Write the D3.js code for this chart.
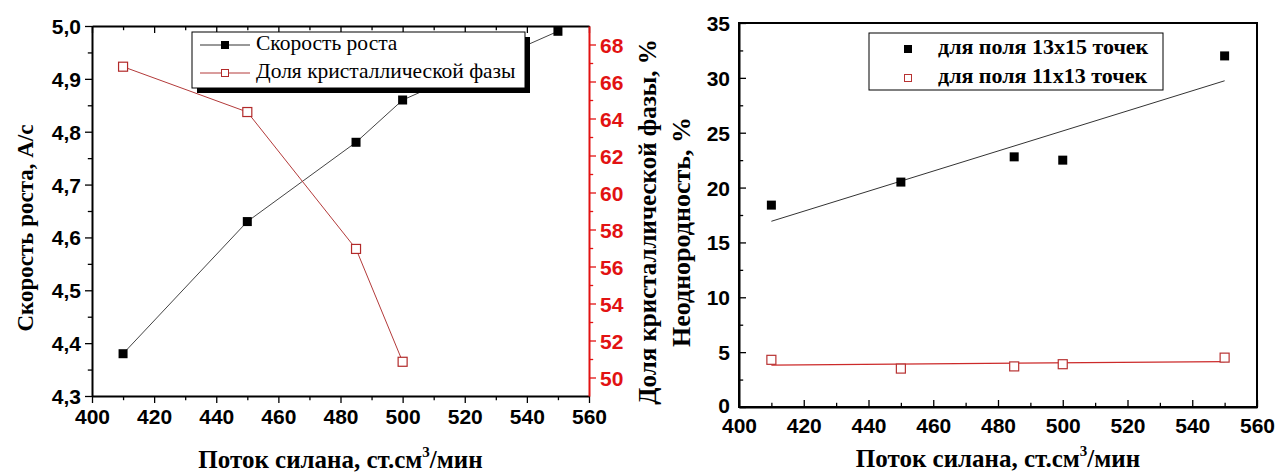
<!DOCTYPE html>
<html>
<head>
<meta charset="utf-8">
<script src="https://cdn.jsdelivr.net/npm/d3@7"></script>
<style>
    body { margin: 0; background: #fff; }
    svg { display: block; }
    .tick text { font-family: "Liberation Sans", Arial, sans-serif; font-weight: bold; font-size: 21px; }
    .title { font-family: "Liberation Serif", "Times New Roman", serif; font-weight: bold; font-size: 25px; }
</style>
</head>
<body>
<svg id="chart" width="1277" height="475"></svg>
<script>
// ---- data ----
const flow = [410, 450, 485, 500, 550];
const growthRate = [4.38, 4.63, 4.78, 4.86, 4.99];
const crystalFlow = [410, 450, 485, 500];
const crystalFraction = [66.8, 64.35, 56.95, 50.85];
const field13x15 = [18.4, 20.5, 22.8, 22.5, 32.0];
const field11x13 = [4.3, 3.5, 3.7, 3.9, 4.5];

const xTicks = [400, 420, 440, 460, 480, 500, 520, 540, 560];
const xMinor = [410, 430, 450, 470, 490, 510, 530, 550];
const rateTicks = [4.3, 4.4, 4.5, 4.6, 4.7, 4.8, 4.9, 5.0];
const rateMinor = [4.35, 4.45, 4.55, 4.65, 4.75, 4.85, 4.95];
const fracTicks = [50, 52, 54, 56, 58, 60, 62, 64, 66, 68];
const fracMinor = [51, 53, 55, 57, 59, 61, 63, 65, 67];
const nonTicks = [0, 5, 10, 15, 20, 25, 30, 35];
const nonMinor = [2.5, 7.5, 12.5, 17.5, 22.5, 27.5, 32.5];

const legendLeft = ['Скорость роста', 'Доля кристаллической фазы'];
const legendRight = ['для поля 13х15 точек', 'для поля 11х13 точек'];

const RED_AXIS = '#e21212';
const comma = d => d3.format('.1f')(d).replace('.', ',');

const svg = d3.select('#chart');

// small helper: draw axis with major + minor ticks
function axisWithMinor(g, axisFn, scale, major, minor, size, fmt, color) {
    g.call(axisFn(scale).tickValues(major).tickSize(size).tickSizeOuter(0).tickPadding(4).tickFormat(fmt));
    g.append('g').call(axisFn(scale).tickValues(minor).tickSize(size * 0.6).tickSizeOuter(0).tickFormat(''))
        .select('.domain').remove();
    g.selectAll('.domain').attr('stroke', color).attr('stroke-width', 2);
    g.selectAll('.tick line').attr('stroke', color).attr('stroke-width', 1.3);
    g.selectAll('.tick text').attr('fill', color);
}

function regression(xs, ys) {
    const mx = d3.mean(xs), my = d3.mean(ys);
    const sxy = d3.sum(xs, (x, i) => (x - mx) * (ys[i] - my));
    const sxx = d3.sum(xs, x => (x - mx) * (x - mx));
    const k = sxy / sxx;
    return x => my + k * (x - mx);
}

function xTitle(g, cx, y) {
    const t = g.append('text').attr('class', 'title').attr('x', cx).attr('y', y).attr('text-anchor', 'middle');
    t.append('tspan').text('Поток силана, ст.см');
    t.append('tspan').attr('dy', -11).style('font-size', '15px').text('3');
    t.append('tspan').attr('dy', 11).text('/мин');
}

//----------------------------------------------------------------------------
// left chart
{
    const L = 92, R = 589, T = 26, B = 396;
    const x = d3.scaleLinear().domain([400, 560]).range([L, R]);
    const y = d3.scaleLinear().domain([4.3, 5.0]).range([B, T]);
    const y2 = d3.scaleLinear().domain([49, 69]).range([B, T]);

    const g = svg.append('g');

    const bx = g.append('g').attr('transform', `translate(0,${B})`);
    axisWithMinor(bx, d3.axisBottom, x, xTicks, xMinor, 7, d => d, '#000');
    axisWithMinor(g.append('g').attr('transform', `translate(0,${T})`), d3.axisBottom, x, xTicks, xMinor, 7, '', '#000');
    const ly = g.append('g').attr('transform', `translate(${L},0)`);
    axisWithMinor(ly, d3.axisLeft, y, rateTicks, rateMinor, 7, comma, '#000');
    const ry = g.append('g').attr('transform', `translate(${R},0)`);
    axisWithMinor(ry, d3.axisRight, y2, fracTicks, fracMinor, 7, d => d, RED_AXIS);
    ly.selectAll('.tick text').attr('dy', null).attr('dominant-baseline', 'central');
    ry.selectAll('.tick text').attr('dy', null).attr('x', 11).attr('dominant-baseline', 'central');
    bx.selectAll('.tick text').attr('dy', null).attr('y', 13).attr('dominant-baseline', 'hanging');

    const line = d3.line().x(d => x(d[0])).y(d => d[1]);

    g.append('path')
        .attr('d', line(flow.map((f, i) => [f, y(growthRate[i])])))
        .attr('fill', 'none').attr('stroke', '#444').attr('stroke-width', 1);
    g.append('path')
        .attr('d', line(crystalFlow.map((f, i) => [f, y2(crystalFraction[i])])))
        .attr('fill', 'none').attr('stroke', '#b33a3a').attr('stroke-width', 1);

    g.selectAll('.crys').data(crystalFlow).join('rect')
        .attr('x', d => x(d) - 4.5).attr('y', (d, i) => y2(crystalFraction[i]) - 4.5)
        .attr('width', 9).attr('height', 9).attr('fill', '#fff').attr('stroke', '#b22a2a').attr('stroke-width', 1.2);

    // legend
    const lg = g.append('g').attr('transform', 'translate(192,32)');
    lg.append('rect').attr('x', 5).attr('y', 5).attr('width', 333).attr('height', 56).attr('fill', '#000');
    lg.append('rect').attr('width', 333).attr('height', 56).attr('fill', '#fff').attr('stroke', '#000').attr('stroke-width', 1);
    legendLeft.forEach((t, i) => {
        const yy = 13 + i * 28;
        const col = i === 0 ? '#333' : '#b33a3a';
        lg.append('line').attr('x1', 8).attr('x2', 58).attr('y1', yy).attr('y2', yy).attr('stroke', col);
        if (i === 0) lg.append('rect').attr('x', 29).attr('y', yy - 4).attr('width', 8).attr('height', 8).attr('fill', '#000');
        else lg.append('rect').attr('x', 29.5).attr('y', yy - 3.5).attr('width', 7).attr('height', 7).attr('fill', '#fff').attr('stroke', '#b22a2a');
        lg.append('text').attr('x', 64).attr('y', yy).attr('dominant-baseline', 'middle')
            .style('font-family', '"Liberation Serif", serif').style('font-size', '21.5px').text(t);
    });

    // markers of the growth series on top (legend overlaps the line)
    g.selectAll('.rate').data(flow).join('rect')
        .attr('x', d => x(d) - 4.5).attr('y', (d, i) => y(growthRate[i]) - 4.5)
        .attr('width', 9).attr('height', 9).attr('fill', '#000');

    g.append('text').attr('class', 'title').attr('transform', 'translate(33,228) rotate(-90)')
        .attr('text-anchor', 'middle').style('font-size', '23px').text('Скорость роста, А/с');
    g.append('text').attr('class', 'title').attr('transform', 'translate(656,222) rotate(-90)')
        .attr('text-anchor', 'middle').text('Доля кристаллической фазы, %');
    xTitle(g, (L + R) / 2, 468);
}

//----------------------------------------------------------------------------
// right chart
{
    const L = 739, R = 1257, T = 23, B = 407;
    const x = d3.scaleLinear().domain([400, 560]).range([L, R]);
    const y = d3.scaleLinear().domain([0, 35]).range([B, T]);

    const g = svg.append('g');

    g.append('rect').attr('x', L).attr('y', T).attr('width', R - L).attr('height', B - T)
        .attr('fill', 'none').attr('stroke', '#000').attr('stroke-width', 2);

    const bx = g.append('g').attr('transform', `translate(0,${B})`);
    axisWithMinor(bx, d3.axisBottom, x, xTicks, xMinor, -7, d => d, '#000');
    bx.selectAll('.tick text').attr('dy', null).attr('y', 11).attr('dominant-baseline', 'hanging');
    const ly = g.append('g').attr('transform', `translate(${L},0)`);
    axisWithMinor(ly, d3.axisLeft, y, nonTicks, nonMinor, -7, d => d, '#000');
    ly.selectAll('.tick text').attr('x', -9).attr('dy', null).attr('dominant-baseline', 'central');
    ly.selectAll('.tick text').filter(d => d === 0).attr('dy', -2);

    const fitA = regression(flow, field13x15);
    const fitB = regression(flow, field11x13);
    const ends = d3.extent(flow);
    g.append('line').attr('x1', x(ends[0])).attr('x2', x(ends[1]))
        .attr('y1', y(fitA(ends[0]))).attr('y2', y(fitA(ends[1]))).attr('stroke', '#333').attr('stroke-width', 1);
    g.append('line').attr('x1', x(ends[0])).attr('x2', x(ends[1]))
        .attr('y1', y(fitB(ends[0]))).attr('y2', y(fitB(ends[1]))).attr('stroke', '#cc2a2a').attr('stroke-width', 1.3);

    g.selectAll('.a').data(flow).join('rect')
        .attr('x', d => x(d) - 4.5).attr('y', (d, i) => y(field13x15[i]) - 4.5)
        .attr('width', 9).attr('height', 9).attr('fill', '#000');
    g.selectAll('.b').data(flow).join('rect')
        .attr('x', d => x(d) - 4.5).attr('y', (d, i) => y(field11x13[i]) - 4.5)
        .attr('width', 9).attr('height', 9).attr('fill', '#fff').attr('stroke', '#b83232').attr('stroke-width', 1.2);

    const lg = g.append('g').attr('transform', 'translate(869,33)');
    lg.append('rect').attr('width', 294).attr('height', 57).attr('fill', '#fff').attr('stroke', '#000').attr('stroke-width', 1);
    legendRight.forEach((t, i) => {
        const yy = 16 + i * 29;
        if (i === 0) lg.append('rect').attr('x', 35).attr('y', yy - 4).attr('width', 8).attr('height', 8).attr('fill', '#000');
        else lg.append('rect').attr('x', 35.5).attr('y', yy - 3.5).attr('width', 7).attr('height', 7).attr('fill', '#fff').attr('stroke', '#b83232');
        lg.append('text').attr('x', 69).attr('y', yy).attr('dominant-baseline', 'middle')
            .style('font-family', '"Liberation Serif", serif').style('font-weight', 'bold').style('font-size', '22px').text(t);
    });

    g.append('text').attr('class', 'title').attr('transform', 'translate(690,232) rotate(-90)')
        .attr('text-anchor', 'middle').style('font-size', '26px').text('Неоднородность, %');
    xTitle(g, (L + R) / 2, 467);
}
</script>
</body>
</html>
